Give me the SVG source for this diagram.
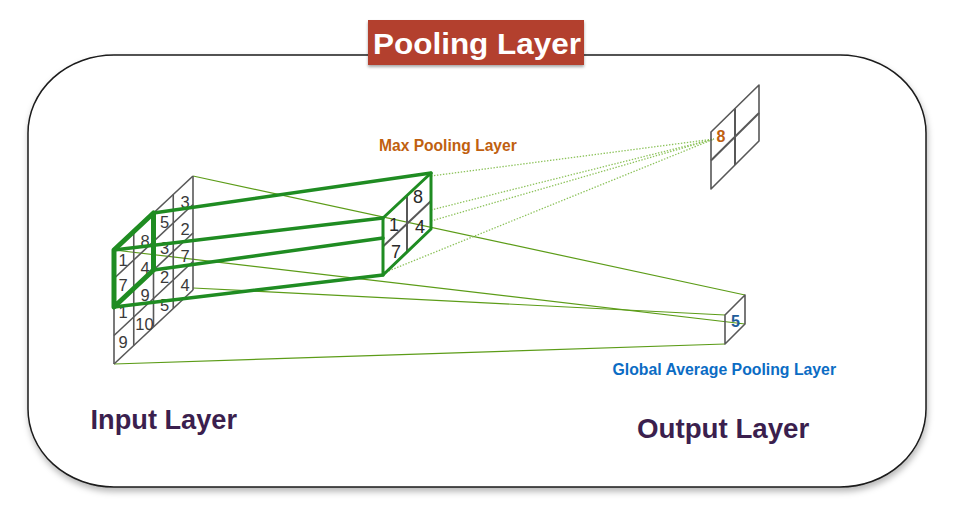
<svg xmlns="http://www.w3.org/2000/svg" width="956" height="528" viewBox="0 0 956 528">
<defs>
<filter id="shadow" x="-10%" y="-10%" width="120%" height="125%">
<feDropShadow dx="1" dy="4" stdDeviation="3" flood-color="#000" flood-opacity="0.28"/>
</filter>
<filter id="tshadow" x="-10%" y="-20%" width="120%" height="150%">
<feDropShadow dx="0" dy="2" stdDeviation="1.5" flood-color="#000" flood-opacity="0.35"/>
</filter>
<style>
.grid{fill:none;stroke:#585858;stroke-width:1.6;stroke-linejoin:round}
.cell{font-family:"Liberation Sans",Arial,sans-serif;font-size:16.5px;fill:#3a3a3a;text-anchor:middle}
.pnum{font-family:"Liberation Sans",Arial,sans-serif;font-size:18px;fill:#2a2a2a;text-anchor:middle}
.thick{fill:none;stroke:#1f8c22;stroke-width:3.5;stroke-linecap:round;stroke-linejoin:round}
.thin{fill:none;stroke:#5c9c18;stroke-width:1.2}
.dot{fill:none;stroke:#8cc25a;stroke-width:1.3;stroke-dasharray:1.4 1.6}
.lbl{font-family:"Liberation Sans",Arial,sans-serif;font-weight:bold}
</style>
</defs>
<rect width="956" height="528" fill="#ffffff"/>

<g id="frame">
<rect x="28" y="55" width="898" height="432" rx="86" ry="78" fill="#ffffff" stroke="#1a1a1a" stroke-width="1.5" filter="url(#shadow)"/>
</g>

<g id="title">
<rect x="368" y="20" width="216" height="45" fill="#b3412f" filter="url(#tshadow)"/>
<text class="lbl" x="373" y="54" font-size="30" fill="#ffffff" textLength="208" lengthAdjust="spacingAndGlyphs">Pooling Layer</text>
</g>

<g id="connectors">
<line class="thin" x1="193" y1="176" x2="745" y2="295"/>
<line class="thin" x1="114" y1="250" x2="745" y2="324"/>
<line class="thin" x1="193" y1="288" x2="725" y2="315"/>
<line class="thin" x1="114" y1="364" x2="725" y2="344"/>
<line class="dot" x1="431" y1="176" x2="714" y2="139"/>
<line class="dot" x1="431" y1="210" x2="714" y2="139"/>
<line class="dot" x1="431" y1="221" x2="714" y2="139"/>
<line class="dot" x1="386" y1="272" x2="714" y2="139"/>
</g>

<g id="input-layer">
<g class="grid">
<line x1="114" y1="250" x2="114" y2="364"/>
<line x1="133.75" y1="231.5" x2="133.75" y2="345.5"/>
<line x1="153.5" y1="213" x2="153.5" y2="327"/>
<line x1="173.25" y1="194.5" x2="173.25" y2="308.5"/>
<line x1="193" y1="176" x2="193" y2="290"/>
<line x1="114" y1="250" x2="193" y2="176"/>
<line x1="114" y1="278.5" x2="193" y2="204.5"/>
<line x1="114" y1="307" x2="193" y2="233"/>
<line x1="114" y1="335.5" x2="193" y2="261.5"/>
<line x1="114" y1="364" x2="193" y2="290"/>
</g>
<text class="cell" x="123" y="266">1</text>
<text class="cell" x="123" y="291">7</text>
<text class="cell" x="123" y="318">1</text>
<text class="cell" x="123" y="347.5">9</text>
<text class="cell" x="145" y="246.5">8</text>
<text class="cell" x="145" y="274">4</text>
<text class="cell" x="145" y="301">9</text>
<text class="cell" x="144.5" y="330">10</text>
<text class="cell" x="164.5" y="227.5">5</text>
<text class="cell" x="164.5" y="254">3</text>
<text class="cell" x="164.5" y="282.5">2</text>
<text class="cell" x="164.5" y="311">5</text>
<text class="cell" x="185" y="207.5">3</text>
<text class="cell" x="185" y="235">2</text>
<text class="cell" x="185" y="262">7</text>
<text class="cell" x="185" y="291">4</text>
<polygon points="114,250 153.5,213 153.5,270 114,307" fill="none" stroke="#1f8c22" stroke-width="5" stroke-linejoin="round"/>
</g>

<g id="pool-links">
<line class="thick" x1="153.5" y1="213" x2="431" y2="173"/>
<line class="thick" x1="114" y1="250" x2="383" y2="218"/>
<line class="thick" x1="153.5" y1="270" x2="383" y2="238"/>
<line class="thick" x1="114" y1="307" x2="383" y2="275"/>
</g>

<g id="max-pooling">
<line x1="407" y1="195.5" x2="407" y2="252" stroke="#585858" stroke-width="2"/>
<line x1="383" y1="246.5" x2="431" y2="201" stroke="#585858" stroke-width="2"/>
<polygon points="383,218 431,173 431,229 383,275" fill="none" stroke="#1f8c22" stroke-width="3" stroke-linejoin="round"/>
<text class="pnum" x="418" y="203">8</text>
<text class="pnum" x="394" y="231">1</text>
<text class="pnum" x="420" y="233">4</text>
<text class="pnum" x="396" y="257.5">7</text>
</g>

<g id="max-output">
<polygon class="grid" points="711,132 759,85 759,141 711,189" stroke-width="2"/>
<line x1="735" y1="108.5" x2="735" y2="165" stroke="#585858" stroke-width="2"/>
<line x1="711" y1="160.5" x2="759" y2="113" stroke="#585858" stroke-width="2"/>
<text class="lbl" x="721" y="142" font-size="16" fill="#c0600f" text-anchor="middle">8</text>
</g>

<g id="gap-output">
<polygon class="grid" points="725,315 745,295 745,324 725,344" stroke-width="2"/>
<text class="lbl" x="735.5" y="327" font-size="16" fill="#1f5c99" text-anchor="middle">5</text>
</g>

<g id="labels">
<text class="lbl" x="379" y="150.5" font-size="15.6" fill="#c0600f">Max Pooling Layer</text>
<text class="lbl" x="612.5" y="375" font-size="15.8" fill="#0b6cc4">Global Average Pooling Layer</text>
<text class="lbl" x="90.5" y="428.5" font-size="27.2" fill="#3b1f4e">Input Layer</text>
<text class="lbl" x="637" y="438" font-size="27.7" fill="#3b1f4e">Output Layer</text>
</g>
</svg>
